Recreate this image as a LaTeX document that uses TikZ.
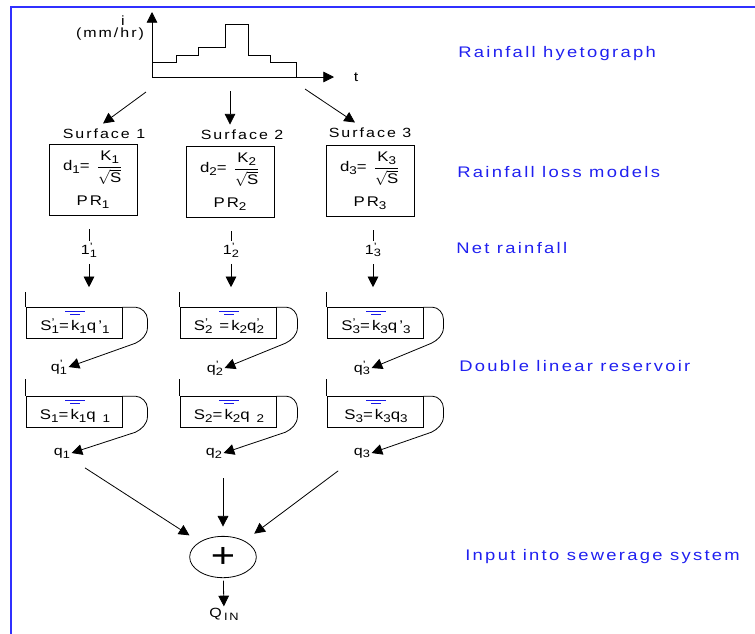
\documentclass[tikz,border=0pt]{standalone}
\usepackage{amsmath}
\usepackage{graphicx}
\usepackage{fontspec}
\setmainfont{Liberation Sans}[FakeStretch=1.2, LetterSpace=15]
\usepackage{tikz}
\usetikzlibrary{arrows.meta, positioning, shapes.geometric, calc}
\definecolor{noteblue}{HTML}{2020F0}
\definecolor{frameblue}{HTML}{3030FF}
\definecolor{waterblue}{HTML}{1818E8}
\newcommand{\lo}[1]{\raisebox{-0.4ex}{\scalebox{0.8}{#1}}}
\newcommand{\psub}[1]{\rlap{\raisebox{0.55ex}{\scalebox{0.8}{'}}}\lo{#1}}
\tikzset{
    txt/.style={
        font=\fontsize{10}{12}\selectfont, inner sep=1pt
    },
    note/.style={
        font=\fontsize{11.5}{13}\selectfont, text=noteblue, anchor=west, inner sep=0pt
    },
    lossbox/.style={
        rectangle, draw, line width=0.7pt,
        minimum width=66pt, minimum height=53pt,
        font=\fontsize{10.5}{12}\selectfont, align=center, inner sep=2pt
    },
    resbox/.style={
        rectangle, draw, line width=0.7pt,
        minimum width=72pt, minimum height=23pt, inner sep=0pt
    },
    restext/.style={
        font=\fontsize{10.5}{12}\selectfont, inner sep=0pt, anchor=base
    },
    sumnode/.style={
        ellipse, draw, line width=0.6pt,
        minimum width=50pt, minimum height=31pt, inner sep=0pt,
        font=\fontsize{26}{26}\selectfont
    },
    arr/.style={
        -{Triangle[length=8pt, width=8pt]}, line width=0.6pt
    },
    wall/.style={line width=0.7pt},
    level/.style={draw=waterblue, line width=0.6pt},
}

\begin{document}
\begin{tikzpicture}[x=0.75pt, y=-0.75pt]

    \useasboundingbox (0,0) rectangle (755,633);
    \clip (0,0) rectangle (755,633);

    % ── Frame ──
    \draw[frameblue, line width=1.5pt] (755,6.5) -- (10.5,6.5) -- (10.5,640);

    % ── Hyetograph ──
    \coordinate (hO) at (152,77);
    \coordinate (hY) at (152,12);
    \coordinate (hX) at (334,77);
    \draw[arr] (hO) -- (hY);
    \draw[arr] (hO) -- (hX);
    \draw[line width=0.6pt] (152,62) -| (176,55) -| (198,47) -| (225,24) -| (248,55) -| (270,62) -| (296,77);
    \node[txt] (iax) at (123,21) {i};
    \node[txt] (unit) at (110,34) {(mm/hr)};
    \node[txt] (tax) at (356,77) {t};

    % ── Surfaces ──
    \coordinate (hs1) at (146,92);
    \coordinate (hs2) at (230,91);
    \coordinate (hs3) at (305,89);
    \node[txt] (s1) at (104,134) {Surface 1};
    \node[txt] (s2) at (242,135) {Surface 2};
    \node[txt] (s3) at (370,133) {Surface 3};
    \draw[arr] (hs1) -- ($(s1.north)+(-1,-4)$);
    \draw[arr] (hs2) -- ($(s2.north)+(-12,-4)$);
    \draw[arr] (hs3) -- ($(s3.north)+(-15,-4)$);

    % ── Loss models ──
    \node[lossbox] (L1) at (93,180) {d\lo{1}= $\dfrac{\text{K\lo{1}}}{\sqrt{\text{S}}}$\\[8pt] PR\lo{1}};
    \node[lossbox] (L2) at (230,182) {d\lo{2}= $\dfrac{\text{K\lo{2}}}{\sqrt{\text{S}}}$\\[8pt] PR\lo{2}};
    \node[lossbox] (L3) at (370,181) {d\lo{3}= $\dfrac{\text{K\lo{3}}}{\sqrt{\text{S}}}$\\[8pt] PR\lo{3}};

    % ── Net rainfall ──
    \node[txt] (nr1) at (89,250) {1\psub{1}};
    \node[txt] (nr2) at (231,250) {1\psub{2}};
    \node[txt] (nr3) at (373,250) {1\psub{3}};
    \draw[line width=0.6pt, shorten <=10pt] (L1.south -| nr1) -- (nr1);
    \draw[line width=0.6pt, shorten <=10pt] (L2.south -| nr2) -- (nr2);
    \draw[line width=0.6pt, shorten <=10pt] (L3.south -| nr3) -- (nr3);

    % ── First reservoirs ──
    \node[resbox] (rs1) at (74,323) {};
    \node[resbox] (rs2) at (228,323) {};
    \node[resbox] (rs3) at (375,323) {};
    \draw[arr, shorten <=4pt, shorten >=15pt] (nr1) -- (nr1 |- rs1.north);
    \draw[arr, shorten <=4pt, shorten >=15pt] (nr2) -- (nr2 |- rs2.north);
    \draw[arr, shorten <=4pt, shorten >=15pt] (nr3) -- (nr3 |- rs3.north);
    \draw[wall] (rs1.north west) -- ++(0,-15);
    \draw[wall] (rs2.north west) -- ++(0,-15);
    \draw[wall] (rs3.north west) -- ++(0,-15);
    \draw[level] ($(rs1.north)+(-9,4)$) -- ++(20,0) ($(rs1.north)+(-4,7)$) -- ++(10,0);
    \draw[level] ($(rs2.north)+(-9,4)$) -- ++(20,0) ($(rs2.north)+(-4,7)$) -- ++(10,0);
    \draw[level] ($(rs3.north)+(-9,4)$) -- ++(20,0) ($(rs3.north)+(-4,7)$) -- ++(10,0);
    \node[restext] (ts1) at ($(rs1.north)+(1,23)$) {S\psub{1}=k\lo{1}q'\lo{1}};
    \node[restext] (ts2) at ($(rs2.north)+(1,23)$) {S\psub{2} =k\lo{2}q\psub{2}};
    \node[restext] (ts3) at ($(rs3.north)+(1,23)$) {S\psub{3}=k\lo{3}q'\lo{3}};
    \node[txt] (qp1) at (59,367) {q\psub{1}};
    \node[txt] (qp2) at (215,368) {q\psub{2}};
    \node[txt] (qp3) at (362,368) {q\psub{3}};
    \draw[arr] (rs1.north east) -- ++(13,0) .. controls +(6,0) and +(0,-6) .. ++(12,12) -- ++(0,8) .. controls +(0,8) and +(6,-3) .. ++(-12,16) -- (qp1.east);
    \draw[arr] (rs2.north east) -- ++(10,0) .. controls +(6,0) and +(0,-6) .. ++(11,12) -- ++(0,8) .. controls +(0,8) and +(6,-3) .. ++(-12,16) -- (qp2.east);
    \draw[arr] (rs3.north east) -- ++(9,0) .. controls +(6,0) and +(0,-6) .. ++(11,12) -- ++(0,8) .. controls +(0,8) and +(6,-3) .. ++(-12,16) -- (qp3.east);

    % ── Second reservoirs ──
    \node[resbox] (rq1) at (74,412) {};
    \node[resbox] (rq2) at (228,412) {};
    \node[resbox] (rq3) at (375,412) {};
    \draw[wall] (rq1.north west) -- ++(0,-17);
    \draw[wall] (rq2.north west) -- ++(0,-17);
    \draw[wall] (rq3.north west) -- ++(0,-17);
    \draw[level] ($(rq1.north)+(-9,4)$) -- ++(20,0) ($(rq1.north)+(-4,7)$) -- ++(10,0);
    \draw[level] ($(rq2.north)+(-9,4)$) -- ++(20,0) ($(rq2.north)+(-4,7)$) -- ++(10,0);
    \draw[level] ($(rq3.north)+(-9,4)$) -- ++(20,0) ($(rq3.north)+(-4,7)$) -- ++(10,0);
    \node[restext] (tq1) at ($(rq1.north)+(1,23)$) {S\lo{1}=k\lo{1}q \lo{1}};
    \node[restext] (tq2) at ($(rq2.north)+(1,23)$) {S\lo{2}=k\lo{2}q \lo{2}};
    \node[restext] (tq3) at ($(rq3.north)+(1,23)$) {S\lo{3}=k\lo{3}q\lo{3}};
    \node[txt] (q1) at (62,453) {q\lo{1}};
    \node[txt] (q2) at (214,453) {q\lo{2}};
    \node[txt] (q3) at (362,453) {q\lo{3}};
    \draw[arr] (rq1.north east) -- ++(13,0) .. controls +(6,0) and +(0,-6) .. ++(12,12) -- ++(0,8) .. controls +(0,8) and +(6,-3) .. ++(-12,16) -- (q1.east);
    \draw[arr] (rq2.north east) -- ++(10,0) .. controls +(6,0) and +(0,-6) .. ++(11,12) -- ++(0,8) .. controls +(0,8) and +(6,-3) .. ++(-12,16) -- (q2.east);
    \draw[arr] (rq3.north east) -- ++(9,0) .. controls +(6,0) and +(0,-6) .. ++(11,12) -- ++(0,8) .. controls +(0,8) and +(6,-3) .. ++(-12,16) -- (q3.east);

    % ── Sum ──
    \node[sumnode] (sum) at (223,557) {+};
    \node[txt] (qin) at (224,614) {Q\,\lo{IN}};
    \draw[arr, shorten <=12pt, shorten >=9pt] (q1) -- (sum);
    \draw[arr, shorten <=14pt, shorten >=7pt] (q2.south -| sum.north) -- (sum.north);
    \draw[arr, shorten <=14pt, shorten >=9pt] (q3) -- (sum);
    \draw[arr, shorten <=2pt] (sum) -- (qin);

    % ── Side notes ──
    \node[note] (n1) at (458,54) {Rainfall hyetograph};
    \node[note] (n2) at (457,172) {Rainfall loss models};
    \node[note] (n3) at (456,248) {Net rainfall};
    \node[note] (n4) at (459,366) {Double linear reservoir};
    \node[note] (n5) at (465,557) {Input into sewerage system};

\end{tikzpicture}
\end{document}
